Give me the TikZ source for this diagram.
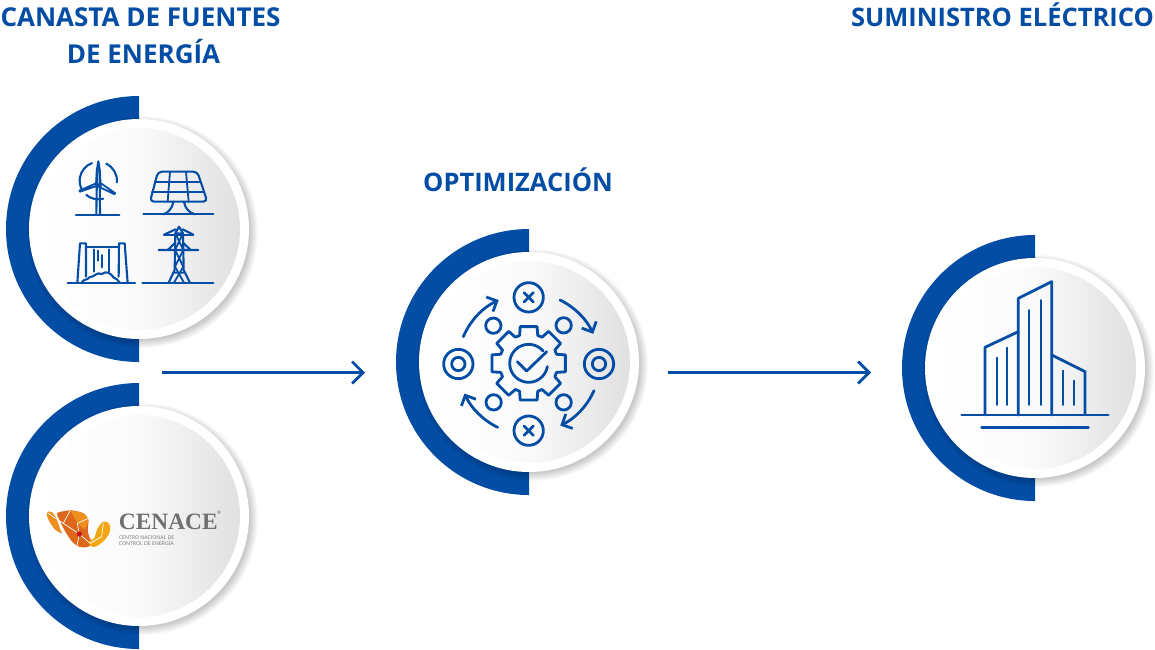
\documentclass[tikz,border=0pt]{standalone}
\usepackage{fontspec}
\setmainfont{Open Sans}
\newfontfamily\logofont{Liberation Serif}
\usetikzlibrary{arrows.meta,calc}
\definecolor{brandblue}{HTML}{044DA5}
\definecolor{logogray}{HTML}{6F706F}
\definecolor{logoorange}{HTML}{DD671B}
\definecolor{logolight}{HTML}{EE8E1F}
\definecolor{logoyellow}{HTML}{F2A60F}
\definecolor{logored}{HTML}{C4161C}
\tikzset{
  heading/.style={text=brandblue,font=\fontsize{25.5}{37}\selectfont\bfseries,align=center,inner sep=0pt},
  flow/.style={draw=brandblue,line width=2.6pt,-{Straight Barb[length=11pt,width=22pt,line width=2.8pt]}},
  ico/.style={draw=brandblue,line width=2.1pt,line cap=round,line join=round},
  icothin/.style={draw=brandblue,line width=1.8pt,line cap=round,line join=round},
  icoz/.style={draw=brandblue,line width=2.8pt,line cap=round,line join=round},
  arrowz/.style={icoz,-{Straight Barb[length=8pt,width=16pt,line width=2.8pt]}},
}
% a station: blue half ring, soft shadow, white disc, shaded disc
\newcommand{\station}[3]{%
  \fill[brandblue] (#1,#2+133) arc[start angle=90,end angle=270,radius=133] -- cycle;
  \foreach \r in {116,115,...,108}{
    \fill[black,opacity=.022] (#1+3,#2+3) circle[radius=\r];}
  \fill[white] (#1,#2) circle[radius=110];
  \node[circle,minimum size=202pt,inner sep=0pt,left color=white,right color=black!12,middle color=black!2] (#3) at (#1,#2) {};
}
\begin{document}
\begin{tikzpicture}[x=1pt,y=-1pt]
\useasboundingbox (0,0) rectangle (1155,649);
\fill[white] (0,0) rectangle (1155,649);

\station{139}{229}{sources}
\station{139}{516}{cenace}
\station{529}{362}{optim}
\station{1035}{368}{supply}

% headings
\node[heading,font=\fontsize{26}{37}\selectfont\bfseries] (h1) at (140.5,35.5) {CANASTA DE FUENTES\\\hspace*{6pt}DE ENERGÍA};
\node[heading] (h2) at (518,180) {OPTIMIZACIÓN};
\node[heading] (h3) at (1002.5,15) {SUMINISTRO ELÉCTRICO};

% connectors
\coordinate (a1) at (162,372.5);
\coordinate (b1) at (365,372.5);
\coordinate (a2) at (668,372.5);
\coordinate (b2) at (871,372.5);
\draw[flow] (a1) -- (b1);
\draw[flow] (a2) -- (b2);

% energy icons (coordinates of a 3x enlargement)
\begin{scope}[shift={(0,90)},scale=0.33333]
  % wind turbine
  \coordinate (wc) at (295,272);
  \draw[ico] (228,375) -- (358,375);
  \draw[ico] (289,375) -- (291,240) (300,375) -- (299,240);
  \draw[ico] (295,214) -- (291,240) -- (288,290) (295,214) -- (299,240) -- (302,290);
  \draw[icothin] (238,302) -- (288,280) -- (298,285) -- (240,305) -- cycle;
  \draw[icothin] (346,310) -- (303,280) -- (296,290) -- (342,312) -- cycle;
  \draw[ico] ($(wc)+(-110:56)$) arc[start angle=-110,end angle=-205,radius=56];
  \draw[ico] ($(wc)+(-65:56)$) arc[start angle=-65,end angle=5,radius=56];
  \draw[ico] ($(wc)+(130:56)$) arc[start angle=130,end angle=75,radius=56];
  % solar panel
  \draw[ico,rounded corners=4pt] (474,245) -- (592,245) -- (622,335) -- (450,335) -- cycle;
  \draw[icothin] (465,275) -- (603,275) (456,305) -- (612,305);
  \draw[icothin] (510,245) -- (503,335) (558,245) -- (566,335);
  \draw[ico] (520,335) .. controls (517,355) and (505,368) .. (490,373);
  \draw[ico] (552,335) .. controls (555,355) and (567,368) .. (585,373);
  \draw[ico] (430,373) -- (640,373);
  % dam
  \draw[ico] (203,579) -- (405,579);
  \draw[ico] (232,579) -- (240,460) -- (258,460) -- (258,560);
  \draw[ico] (383,579) -- (374,460) -- (357,460) -- (356,560);
  \draw[icothin] (258,472) -- (357,472);
  \draw[icothin] (283,478) -- (283,545) (328,478) -- (328,545);
  \draw[icothin] (293,482) -- (293,512) (306,495) -- (306,532);
  \draw[ico] (245,579) .. controls (250,565) and (262,572) .. (268,562) .. controls (285,560) and (290,545) .. (305,552) .. controls (320,540) and (335,552) .. (340,562) .. controls (350,562) and (352,572) .. (360,579);
  % pylon
  \draw[ico] (427,580) -- (640,580);
  \draw[ico] (506,578) -- (524,540) -- (526,430) -- (537,410) -- (549,430) -- (551,540) -- (570,578);
  \draw[icothin] (526,430) -- (549,430) (526,430) -- (550,480) -- (525,530) -- (552,578)
             (549,430) -- (525,480) -- (550,530) -- (522,578) (524,548) -- (551,548);
  \draw[ico] (527,418) -- (492,434) (548,418) -- (580,434);
  \draw[icothin] (492,436) -- (580,436);
  \draw[ico] (526,458) -- (503,480) (476,480) -- (595,480) (549,458) -- (572,480);
\end{scope}

% optimisation icon
\begin{scope}[shift={(430,270)},scale=0.33333]
  \coordinate (oc) at (296,280);
  \draw[icoz] (296,82) circle[radius=44] (296,482) circle[radius=44]
              (85,282) circle[radius=44] (85,282) circle[radius=20]
              (507,282) circle[radius=44] (507,282) circle[radius=20]
              (190,167) circle[radius=23] (401,166) circle[radius=23]
              (191,397) circle[radius=23] (401,397) circle[radius=23];
  \draw[icoz] (282,68) -- (310,96) (310,68) -- (282,96) (282,468) -- (310,496) (310,468) -- (282,496);
  % gear
  \draw[icoz] ($(oc)+(-13:113)$) \foreach \a in {0,45,...,315}{
     -- ($(oc)+(\a-13:113)$) -- ($(oc)+(\a+13:113)$) -- ($(oc)+(\a+18:88)$) -- ($(oc)+(\a+27:88)$)
  } -- cycle;
  \draw[icoz] ($(oc)+(10:57)$) arc[start angle=10,end angle=320,radius=57];
  \draw[icoz] (262,275) -- (290,303) -- (350,245);
  % circular arrows
  \draw[arrowz] (100,200) arc[start angle=-157,end angle=-115,radius=213];
  \draw[arrowz] (390,90) arc[start angle=-64,end angle=-25,radius=213];
  \draw[arrowz] (492,362) arc[start angle=24,end angle=64,radius=213];
  \draw[arrowz] (203,472) arc[start angle=116,end angle=155,radius=213];
\end{scope}

% building icon
\begin{scope}[shift={(940,270)},scale=0.33333]
  \draw[icoz] (65,435) -- (505,435);
  \draw[icoz] (125,473) -- (445,473);
  \draw[icoz] (235,435) -- (235,85) -- (335,35) -- (335,435);
  \draw[icoz] (135,435) -- (135,232) -- (235,185);
  \draw[icoz] (335,255) -- (435,305) -- (435,435);
  \draw[icothin] (170,263) -- (170,405) (200,233) -- (200,405) (268,120) -- (268,405)
             (302,90) -- (302,405) (369,302) -- (369,405) (401,332) -- (401,405);
\end{scope}

% CENACE logo
\begin{scope}[shift={(20,490)},scale=0.33333]
  \fill[logolight,rounded corners=2pt] (78,68) -- (92,62) -- (108,80) -- (122,122) -- (128,132) -- (105,120) -- (85,90) -- cycle;
  \fill[logoorange,rounded corners=3pt] (108,68) -- (150,60) -- (190,68) -- (207,88) -- (203,115) -- (205,135) -- (218,160) -- (205,172) -- (178,172) -- (155,155) -- (130,115) -- cycle;
  \fill[logolight,rounded corners=2pt] (150,60) -- (190,68) -- (207,88) -- (195,120) -- (172,100) -- cycle;
  \fill[logoyellow,rounded corners=3pt] (205,150) -- (222,150) -- (232,115) -- (250,92) -- (270,100) -- (271,125) -- (255,150) -- (230,170) -- (212,172) -- cycle;
  \draw[white,line width=.7pt] (85,70) -- (130,100) -- (178,132) -- (172,100) -- (205,85) (130,100) -- (150,62) (178,132) -- (210,160) -- (245,140) -- (250,100) (178,132) -- (170,172) (115,90) -- (178,132);
  \fill[logored] (178,132) circle[radius=8];
  \node[anchor=base west,inner sep=0pt,text=logogray,font=\logofont\bfseries\fontsize{23.4}{20}\selectfont] (logo) at (296,117) {CENACE};
  \node[anchor=base west,inner sep=0pt,text=logogray,font=\fontsize{5}{3}\selectfont] (logor) at (590,72) {®};
  \node[anchor=base west,inner sep=0pt,text=logogray,font=\fontsize{5.2}{5}\selectfont] (logo1) at (296,149) {CENTRO NACIONAL DE};
  \node[anchor=base west,inner sep=0pt,text=logogray,font=\fontsize{5.2}{5}\selectfont] (logo2) at (296,166) {CONTROL DE ENERGÍA};
\end{scope}
\end{tikzpicture}
\end{document}
